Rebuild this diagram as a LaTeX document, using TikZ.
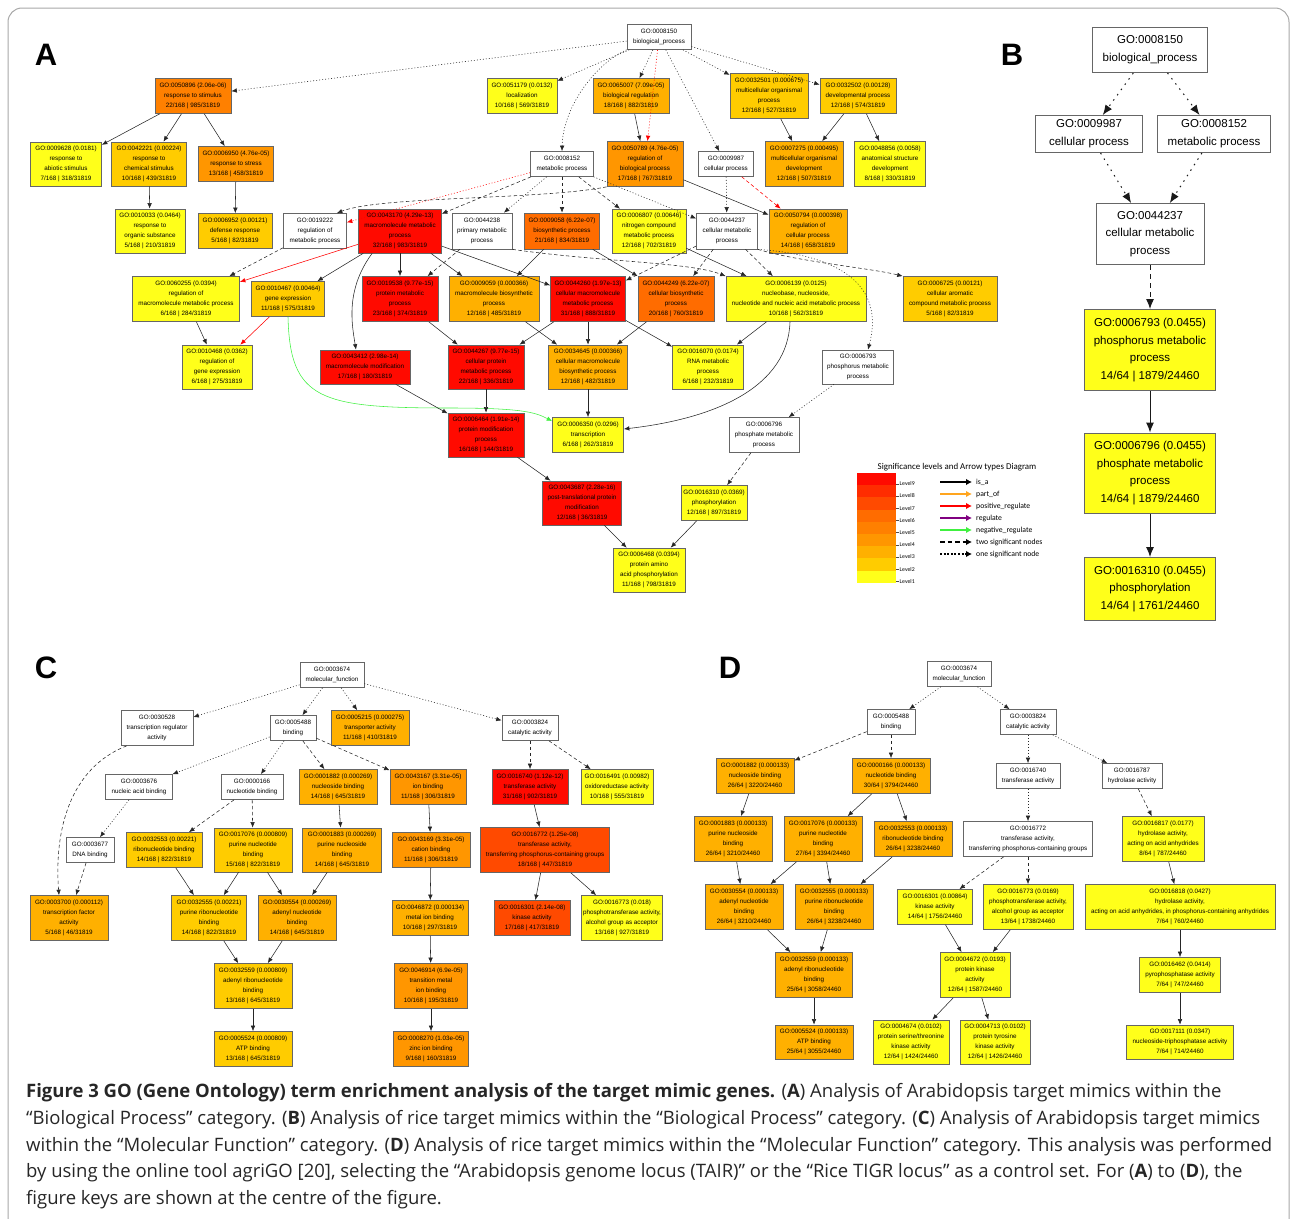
\documentclass[tikz,border=0pt]{standalone}
\usepackage{fontspec}
\setmainfont{Liberation Sans}
\newfontfamily\capfont{Open Sans}
\newfontfamily\keyfont{Carlito}
\usetikzlibrary{arrows.meta}
\definecolor{lvlone}{HTML}{FFFF1A}
\definecolor{lvltwo}{HTML}{FFCC00}
\definecolor{lvlthree}{HTML}{FFB000}
\definecolor{lvlfour}{HTML}{FF9600}
\definecolor{lvlfive}{HTML}{FF8000}
\definecolor{lvlsix}{HTML}{FF6C00}
\definecolor{lvlseven}{HTML}{FF4A00}
\definecolor{lvleight}{HTML}{FF2C00}
\definecolor{lvlnine}{HTML}{FF0A00}
\definecolor{partof}{HTML}{FFA51E}
\definecolor{negreg}{HTML}{40F040}
\definecolor{framegray}{HTML}{A8A8A8}
\newcommand\gofont{\fontsize{6.3}{9.9}\selectfont}
\newcommand\bgofont{\fontsize{11.5}{17.7}\selectfont}
\newcommand\panelfont{\fontsize{31}{31}\selectfont\bfseries}
\newcommand\capsize{\capfont\fontsize{18.5}{22}\selectfont}

\tikzset{
  go/.style={draw=black!60, line width=0.7pt, fill=white, inner sep=0pt, align=center, font=\gofont},
  bgo/.style={go, line width=1pt, font=\bgofont},
  sz/.style 2 args={minimum width=#1, minimum height=#2},
  isa/.style={draw=black!85, line width=0.55pt, -{Latex[length=5.5pt,width=4.5pt]}},
  twosig/.style={isa, dash pattern=on 3.5pt off 2.5pt},
  onesig/.style={isa, dash pattern=on 1pt off 2pt},
  bisa/.style={draw=black!90, line width=1pt, -{Latex[length=10pt,width=8pt]}},
  btwo/.style={bisa, dash pattern=on 5pt off 4pt},
  bone/.style={bisa, dash pattern=on 1.5pt off 5pt},
  keyarr/.style={line width=2.2pt, -{Latex[length=6pt,width=6.5pt]}},
  keylab/.style={anchor=west, inner sep=0pt, font=\keyfont\fontsize{7.7}{8}\selectfont},
  panel/.style={font=\panelfont, inner sep=0pt},
  capline/.style={anchor=base west, inner sep=0pt, font=\capsize, text=black!85},
}

\begin{document}
\begin{tikzpicture}[x=1pt, y=-1pt]
  \useasboundingbox (0,0) rectangle (1292,1218);
  % Figure frame
  \draw[framegray, line width=1pt, rounded corners=14pt] (8,8) rectangle (1289,1260);

  % Panel letters
  \node[panel] (labA) at (46,55) {A};
  \node[panel] (labB) at (1012,55) {B};
  \node[panel] (labC) at (46,668) {C};
  \node[panel] (labD) at (730,668) {D};

  % ---------------- Panel A ----------------
  \node[go, sz={64}{25}] (aBP) at (659,37) {GO:0008150\\biological\_process};
  \node[go, sz={76}{35}, fill=lvlfive] (a50896) at (193,96) {GO:0050896 (2.06e-06)\\response to stimulus\\22/168 | 985/31819};
  \node[go, sz={70}{35}, fill=lvlone] (a51179) at (522,96) {GO:0051179 (0.0132)\\localization\\10/168 | 569/31819};
  \node[go, sz={76}{35}, fill=lvlthree] (a65007) at (631,96) {GO:0065007 (7.09e-05)\\biological regulation\\18/168 | 882/31819};
  \node[go, sz={78}{45}, fill=lvltwo] (a32501) at (769,96) {GO:0032501 (0.000675)\\multicellular organismal\\process\\12/168 | 527/31819};
  \node[go, sz={76}{35}, fill=lvltwo] (a32502) at (858,96) {GO:0032502 (0.00128)\\developmental process\\12/168 | 574/31819};

  \node[go, sz={71}{44}, fill=lvlone] (a9628) at (66,164) {GO:0009628 (0.0181)\\response to\\abiotic stimulus\\7/168 | 318/31819};
  \node[go, sz={75}{44}, fill=lvltwo] (a42221) at (149,164) {GO:0042221 (0.00224)\\response to\\chemical stimulus\\10/168 | 439/31819};
  \node[go, sz={75}{35}, fill=lvlfour] (a6950) at (236,164) {GO:0006950 (4.76e-05)\\response to stress\\13/168 | 458/31819};
  \node[go, sz={63}{25}] (a8152) at (562,164) {GO:0008152\\metabolic process};
  \node[go, sz={76}{45}, fill=lvlfour] (a50789) at (645,164) {GO:0050789 (4.76e-05)\\regulation of\\biological process\\17/168 | 767/31819};
  \node[go, sz={55}{25}] (a9987) at (726,164) {GO:0009987\\cellular process};
  \node[go, sz={78}{45}, fill=lvlthree] (a7275) at (804,164) {GO:0007275 (0.000495)\\multicellular organismal\\development\\12/168 | 507/31819};
  \node[go, sz={71}{45}, fill=lvlone] (a48856) at (890,164) {GO:0048856 (0.0058)\\anatomical structure\\development\\8/168 | 330/31819};

  \node[go, sz={70}{44}, fill=lvlone] (a10033) at (150,231) {GO:0010033 (0.0464)\\response to\\organic substance\\5/168 | 210/31819};
  \node[go, sz={74}{35}, fill=lvltwo] (a6952) at (235,231) {GO:0006952 (0.00121)\\defense response\\5/168 | 82/31819};
  \node[go, sz={63}{35}] (a19222) at (315,231) {GO:0019222\\regulation of\\metabolic process};
  \node[go, sz={83}{44}, fill=lvlnine] (a43170) at (400,231) {GO:0043170 (4.29e-13)\\macromolecule metabolic\\process\\32/168 | 983/31819};
  \node[go, sz={60}{36}] (a44238) at (482,231) {GO:0044238\\primary metabolic\\process};
  \node[go, sz={75}{36}, fill=lvlsix] (a9058) at (562,231) {GO:0009058 (6.22e-07)\\biosynthetic process\\21/168 | 834/31819};
  \node[go, sz={74}{44}, fill=lvlone] (a6807) at (649,231) {GO:0006807 (0.00646)\\nitrogen compound\\metabolic process\\12/168 | 702/31819};
  \node[go, sz={61}{36}] (a44237) at (727,231) {GO:0044237\\cellular metabolic\\process};
  \node[go, sz={78}{44}, fill=lvlthree] (a50794) at (808,231) {GO:0050794 (0.000398)\\regulation of\\cellular process\\14/168 | 658/31819};

  \node[go, sz={107}{45}, fill=lvlone] (a60255) at (186,299) {GO:0060255 (0.0394)\\regulation of\\macromolecule metabolic process\\6/168 | 284/31819};
  \node[go, sz={73}{35}, fill=lvltwo] (a10467) at (288,299) {GO:0010467 (0.00464)\\gene expression\\11/168 | 575/31819};
  \node[go, sz={76}{45}, fill=lvlnine] (a19538) at (400,299) {GO:0019538 (9.77e-15)\\protein metabolic\\process\\23/168 | 374/31819};
  \node[go, sz={90}{45}, fill=lvlthree] (a9059) at (494,299) {GO:0009059 (0.000366)\\macromolecule biosynthetic\\process\\12/168 | 485/31819};
  \node[go, sz={75}{45}, fill=lvlnine] (a44260) at (588,299) {GO:0044260 (1.97e-13)\\cellular macromolecule\\metabolic process\\31/168 | 888/31819};
  \node[go, sz={76}{45}, fill=lvlsix] (a44249) at (676,299) {GO:0044249 (6.22e-07)\\cellular biosynthetic\\process\\20/168 | 760/31819};
  \node[go, sz={140}{45}, fill=lvlone] (a6139) at (796,299) {GO:0006139 (0.0125)\\nucleobase, nucleoside,\\nucleotide and nucleic acid metabolic process\\10/168 | 562/31819};
  \node[go, sz={94}{45}, fill=lvltwo] (a6725) at (950,299) {GO:0006725 (0.00121)\\cellular aromatic\\compound metabolic process\\5/168 | 82/31819};

  \node[go, sz={70}{44}, fill=lvlone] (a10468) at (217,367) {GO:0010468 (0.0362)\\regulation of\\gene expression\\6/168 | 275/31819};
  \node[go, sz={90}{34}, fill=lvlnine] (a43412) at (365,367) {GO:0043412 (2.98e-14)\\macromolecule modification\\17/168 | 180/31819};
  \node[go, sz={76}{44}, fill=lvlnine] (a44267) at (486,367) {GO:0044267 (9.77e-15)\\cellular protein\\metabolic process\\22/168 | 336/31819};
  \node[go, sz={79}{44}, fill=lvlthree] (a34645) at (588,367) {GO:0034645 (0.000366)\\cellular macromolecule\\biosynthetic process\\12/168 | 482/31819};
  \node[go, sz={71}{44}, fill=lvlone] (a16070) at (708,367) {GO:0016070 (0.0174)\\RNA metabolic\\process\\6/168 | 232/31819};
  \node[go, sz={71}{34}] (a6793) at (858,367) {GO:0006793\\phosphorus metabolic\\process};

  \node[go, sz={76}{44}, fill=lvlnine] (a6464) at (486,435) {GO:0006464 (1.91e-14)\\protein modification\\process\\16/168 | 144/31819};
  \node[go, sz={71}{35}, fill=lvlone] (a6350) at (588,435) {GO:0006350 (0.0296)\\transcription\\6/168 | 262/31819};
  \node[go, sz={70}{35}] (a6796) at (764,435) {GO:0006796\\phosphate metabolic\\process};
  \node[go, sz={79}{44}, fill=lvlnine] (a43687) at (582,503) {GO:0043687 (2.28e-16)\\post-translational protein\\modification\\12/168 | 36/31819};
  \node[go, sz={66}{35}, fill=lvlone] (a16310) at (714,503) {GO:0016310 (0.0369)\\phosphorylation\\12/168 | 897/31819};
  \node[go, sz={72}{44}, fill=lvlone] (a6468) at (649,570) {GO:0006468 (0.0394)\\protein amino\\acid phosphorylation\\11/168 | 798/31819};

  % Panel A edges
  \draw[onesig] (aBP) -- (a50896);
  \draw[onesig] (aBP) -- (a51179);
  \draw[onesig] (aBP) -- (a65007);
  \draw[onesig, draw=red] (aBP) -- (a50789);
  \draw[onesig] (aBP) -- (a32501);
  \draw[onesig] (aBP) -- (a32502);
  \draw[onesig] (aBP) -- (a9987);
  \draw[onesig] (aBP.south west) .. controls (598,62) and (563,105) .. (a8152.north);
  \draw[isa] (a50896) -- (a9628);
  \draw[isa] (a50896) -- (a42221);
  \draw[isa] (a50896) -- (a6950);
  \draw[isa] (a42221) -- (a10033);
  \draw[isa] (a6950) -- (a6952);
  \draw[isa] (a65007) -- (a50789);
  \draw[isa] (a32501) -- (a7275);
  \draw[isa] (a32502) -- (a7275);
  \draw[isa] (a32502) -- (a48856);
  \draw[isa] (a50789) -- (a50794);
  \draw[twosig, draw=red] (a9987) -- (a50794);
  \draw[onesig] (a9987) -- (a44237);
  \draw[onesig, draw=red] (a8152) -- (a19222);
  \draw[twosig] (a8152) -- (a43170);
  \draw[onesig] (a8152) -- (a44238);
  \draw[twosig] (a8152) -- (a9058);
  \draw[twosig] (a8152) -- (a6807);
  \draw[onesig] (a8152) -- (a44237);
  \draw[twosig] (a50789.south west) .. controls (540,200) and (380,196) .. ([xshift=-10pt]a19222.north east);
  \draw[twosig] (a19222) -- (a60255);
  \draw[isa, draw=red] (a43170) -- (a60255);
  \draw[isa] (a43170) -- (a10467);
  \draw[isa] ([xshift=14pt]a43170.south west) .. controls (345,290) and (352,325) .. ([xshift=-9pt]a43412.north);
  \draw[isa] (a43170) -- (a19538);
  \draw[isa] (a43170) -- (a9059);
  \draw[isa] (a43170) -- (a44260);
  \draw[twosig] (a44238) -- (a19538);
  \draw[twosig] (a44238.south east) .. controls (600,262) and (690,262) .. (a6139.north west);
  \draw[isa] (a9058) -- (a9059);
  \draw[isa] (a9058) -- (a44249);
  \draw[isa] (a6807) -- (a6139);
  \draw[twosig] (a44237) -- (a44260);
  \draw[twosig] (a44237) -- (a44249);
  \draw[twosig] (a44237) -- (a6139);
  \draw[twosig] (a44237.south east) .. controls (800,262) and (870,268) .. (a6725.north west);
  \draw[onesig] (a44237.south east) .. controls (840,255) and (885,285) .. ([xshift=10pt]a6793.north);
  \draw[isa] (a60255) -- (a10468);
  \draw[isa, draw=red] (a10467) -- (a10468);
  \draw[isa, draw=negreg] (a10467.south) .. controls (290,400) and (320,408) .. (450,408) .. controls (520,408) and (535,412) .. ([yshift=-4pt]a6350.north west);
  \draw[isa] (a19538) -- (a44267);
  \draw[isa] (a44260) -- (a44267);
  \draw[isa] (a44260) -- (a34645);
  \draw[isa] (a44260) -- (a16070);
  \draw[isa] (a9059) -- (a34645);
  \draw[isa] (a44249) -- (a34645);
  \draw[isa] (a6139) -- (a16070);
  \draw[isa] ([xshift=-6pt]a6139.south) .. controls (788,385) and (720,418) .. ([yshift=6pt]a6350.east);
  \draw[isa] (a43412) -- (a6464);
  \draw[isa] (a44267) -- (a6464);
  \draw[isa] (a34645) -- (a6350);
  \draw[onesig] (a6793) -- (a6796);
  \draw[twosig] (a6796) -- (a16310);
  \draw[isa] (a6464) -- (a43687);
  \draw[isa] (a43687) -- (a6468);
  \draw[isa] (a16310) -- (a6468);

  % Key: significance levels and arrow types
  \node[font=\keyfont\fontsize{8.9}{9}\selectfont, inner sep=0pt] (keytitle) at (957,467) {Significance levels and Arrow types Diagram};
  \foreach \c [count=\i] in {lvlnine,lvleight,lvlseven,lvlsix,lvlfive,lvlfour,lvlthree,lvltwo,lvlone}
    \fill[\c] (857,{473+(\i-1)*12.2}) rectangle (896,{473+\i*12.2});
  \foreach \n [count=\i] in {9,...,1} {
    \draw[black!70, line width=0.4pt] (896,{473+\i*12.2-1.5}) -- (899,{473+\i*12.2-1.5});
    \node[anchor=west, inner sep=0pt, font=\keyfont\fontsize{5.8}{6}\selectfont] (lev\n) at (899.5,{473+\i*12.2-1.5}) {Level\n};
  }
  \foreach \y [count=\k] in {482,494,506,518,530,542,554} {
    \coordinate (ks\k) at (940,\y);
    \coordinate (ke\k) at (972,\y);
  }
  \draw[keyarr] (ks1) -- (ke1);
  \draw[keyarr, partof] (ks2) -- (ke2);
  \draw[keyarr, red] (ks3) -- (ke3);
  \draw[keyarr, violet] (ks4) -- (ke4);
  \draw[keyarr, negreg] (ks5) -- (ke5);
  \draw[keyarr, dash pattern=on 4.5pt off 3pt] (ks6) -- (ke6);
  \draw[keyarr, dash pattern=on 2pt off 1.6pt] (ks7) -- (ke7);
  \node[keylab] (kl1) at (976,482) {is\_a};
  \node[keylab] (kl2) at (976,494) {part\_of};
  \node[keylab] (kl3) at (976,506) {positive\_regulate};
  \node[keylab] (kl4) at (976,518) {regulate};
  \node[keylab] (kl5) at (976,530) {negative\_regulate};
  \node[keylab] (kl6) at (976,542) {two significant nodes};
  \node[keylab] (kl7) at (976,554) {one significant node};

  % ---------------- Panel B ----------------
  \node[bgo, sz={115}{45}] (bBP) at (1150,50) {GO:0008150\\biological\_process};
  \node[bgo, sz={107}{37}] (b9987) at (1089,134) {GO:0009987\\cellular process};
  \node[bgo, sz={113}{37}] (b8152) at (1214,134) {GO:0008152\\metabolic process};
  \node[bgo, sz={108}{61}] (b44237) at (1150,234) {GO:0044237\\cellular metabolic\\process};
  \node[bgo, sz={131}{81}, fill=lvlone] (b6793) at (1150,350) {GO:0006793 (0.0455)\\phosphorus metabolic\\process\\14/64 | 1879/24460};
  \node[bgo, sz={131}{80}, fill=lvlone] (b6796) at (1150,473) {GO:0006796 (0.0455)\\phosphate metabolic\\process\\14/64 | 1879/24460};
  \node[bgo, sz={131}{63}, fill=lvlone] (b16310) at (1150,589) {GO:0016310 (0.0455)\\phosphorylation\\14/64 | 1761/24460};
  \draw[bone] (bBP) -- (b9987);
  \draw[bone] (bBP) -- (b8152);
  \draw[bone] (b9987) -- (b44237);
  \draw[bone] (b8152) -- (b44237);
  \draw[btwo] (b44237) -- (b6793);
  \draw[bisa] (b6793) -- (b6796);
  \draw[bisa] (b6796) -- (b16310);

  % ---------------- Panel C ----------------
  \node[go, sz={64}{25}] (cMF) at (332,675) {GO:0003674\\molecular\_function};
  \node[go, sz={72}{35}] (c30528) at (157,728) {GO:0030528\\transcription regulator\\activity};
  \node[go, sz={46}{25}] (c5488) at (293,728) {GO:0005488\\binding};
  \node[go, sz={78}{35}, fill=lvlthree] (c5215) at (370,728) {GO:0005215 (0.000275)\\transporter activity\\11/168 | 410/31819};
  \node[go, sz={56}{25}] (c3824) at (530,728) {GO:0003824\\catalytic activity};

  \node[go, sz={67}{25}] (c3676) at (139,787) {GO:0003676\\nucleic acid binding};
  \node[go, sz={62}{25}] (c166) at (252,787) {GO:0000166\\nucleotide binding};
  \node[go, sz={78}{35}, fill=lvlthree] (c1882) at (338,787) {GO:0001882 (0.000269)\\nucleoside binding\\14/168 | 645/31819};
  \node[go, sz={76}{35}, fill=lvlfour] (c43167) at (428,787) {GO:0043167 (3.31e-05)\\ion binding\\11/168 | 306/31819};
  \node[go, sz={76}{35}, fill=lvlnine] (c16740) at (530,787) {GO:0016740 (1.12e-12)\\transferase activity\\31/168 | 902/31819};
  \node[go, sz={72}{35}, fill=lvlone] (c16491) at (617,787) {GO:0016491 (0.00982)\\oxidoreductase activity\\10/168 | 555/31819};

  \node[go, sz={48}{25}] (c3677) at (90,850) {GO:0003677\\DNA binding};
  \node[go, sz={76}{35}, fill=lvltwo] (c32553) at (164,850) {GO:0032553 (0.00221)\\ribonucleotide binding\\14/168 | 822/31819};
  \node[go, sz={78}{44}, fill=lvltwo] (c17076) at (253,850) {GO:0017076 (0.000809)\\purine nucleotide\\binding\\15/168 | 822/31819};
  \node[go, sz={79}{44}, fill=lvlthree] (c1883) at (342,850) {GO:0001883 (0.000269)\\purine nucleoside\\binding\\14/168 | 645/31819};
  \node[go, sz={78}{35}, fill=lvlfour] (c43169) at (431,850) {GO:0043169 (3.31e-05)\\cation binding\\11/168 | 306/31819};
  \node[go, sz={129}{45}, fill=lvlseven] (c16772) at (545,850) {GO:0016772 (1.25e-08)\\transferase activity,\\transferring phosphorus-containing groups\\18/168 | 447/31819};

  \node[go, sz={78}{45}, fill=lvlthree] (c3700) at (69,918) {GO:0003700 (0.000112)\\transcription factor\\activity\\5/168 | 46/31819};
  \node[go, sz={75}{45}, fill=lvltwo] (c32555) at (209,918) {GO:0032555 (0.00221)\\purine ribonucleotide\\binding\\14/168 | 822/31819};
  \node[go, sz={78}{45}, fill=lvlthree] (c30554) at (297,918) {GO:0030554 (0.000269)\\adenyl nucleotide\\binding\\14/168 | 645/31819};
  \node[go, sz={76}{35}, fill=lvlthree] (c46872) at (430,918) {GO:0046872 (0.000134)\\metal ion binding\\10/168 | 297/31819};
  \node[go, sz={76}{35}, fill=lvlseven] (c16301) at (532,918) {GO:0016301 (2.14e-08)\\kinase activity\\17/168 | 417/31819};
  \node[go, sz={81}{45}, fill=lvlone] (c16773) at (622,918) {GO:0016773 (0.018)\\phosphotransferase activity,\\alcohol group as acceptor\\13/168 | 927/31819};

  \node[go, sz={78}{45}, fill=lvltwo] (c32559) at (253,986) {GO:0032559 (0.000809)\\adenyl ribonucleotide\\binding\\13/168 | 645/31819};
  \node[go, sz={73}{45}, fill=lvlfour] (c46914) at (431,986) {GO:0046914 (6.9e-05)\\transition metal\\ion binding\\10/168 | 195/31819};
  \node[go, sz={78}{35}, fill=lvltwo] (c5524) at (253,1049) {GO:0005524 (0.000809)\\ATP binding\\13/168 | 645/31819};
  \node[go, sz={75}{35}, fill=lvlfour] (c8270) at (431,1049) {GO:0008270 (1.03e-05)\\zinc ion binding\\9/168 | 160/31819};

  % Panel C edges
  \draw[onesig] (cMF) -- (c30528);
  \draw[onesig] (cMF) -- (c5488);
  \draw[onesig] (cMF) -- (c5215);
  \draw[onesig] (cMF) -- (c3824);
  \draw[twosig] ([xshift=6pt]c30528.south west) .. controls (70,768) and (54,830) .. ([xshift=-10pt]c3700.north);
  \draw[onesig] (c5488) -- (c3676);
  \draw[onesig] (c5488) -- (c166);
  \draw[twosig] (c5488) -- (c1882);
  \draw[twosig] (c5488) -- (c43167);
  \draw[onesig] (c3676) -- (c3677);
  \draw[twosig] (c3677) -- (c3700);
  \draw[twosig] (c166) -- (c32553);
  \draw[twosig] (c166) -- (c17076);
  \draw[isa] (c1882) -- (c1883);
  \draw[isa] (c43167) -- (c43169);
  \draw[twosig] (c3824) -- (c16740);
  \draw[twosig] (c3824) -- (c16491);
  \draw[isa] (c16740) -- (c16772);
  \draw[isa] (c32553) -- (c32555);
  \draw[isa] (c17076) -- (c32555);
  \draw[isa] (c17076) -- (c30554);
  \draw[isa] (c1883) -- (c30554);
  \draw[isa] (c32555) -- (c32559);
  \draw[isa] (c30554) -- (c32559);
  \draw[isa] (c32559) -- (c5524);
  \draw[isa] (c43169) -- (c46872);
  \draw[isa] (c46872) -- (c46914);
  \draw[isa] (c46914) -- (c8270);
  \draw[isa] (c16772) -- (c16301);
  \draw[isa] (c16772) -- (c16773);

  % ---------------- Panel D ----------------
  \node[go, sz={64}{25}] (dMF) at (959,674) {GO:0003674\\molecular\_function};
  \node[go, sz={48}{25}] (d5488) at (891,722) {GO:0005488\\binding};
  \node[go, sz={56}{25}] (d3824) at (1028,722) {GO:0003824\\catalytic activity};
  \node[go, sz={78}{35}, fill=lvlthree] (d1882) at (755,776) {GO:0001882 (0.000133)\\nucleoside binding\\26/64 | 3220/24460};
  \node[go, sz={78}{35}, fill=lvlthree] (d166) at (891,776) {GO:0000166 (0.000133)\\nucleotide binding\\30/64 | 3794/24460};
  \node[go, sz={64}{25}] (d16740) at (1028,776) {GO:0016740\\transferase activity};
  \node[go, sz={60}{25}] (d16787) at (1132,776) {GO:0016787\\hydrolase activity};

  \node[go, sz={78}{45}, fill=lvlthree] (d1883) at (733,839) {GO:0001883 (0.000133)\\purine nucleoside\\binding\\26/64 | 3210/24460};
  \node[go, sz={78}{45}, fill=lvlthree] (d17076) at (823,839) {GO:0017076 (0.000133)\\purine nucleotide\\binding\\27/64 | 3394/24460};
  \node[go, sz={78}{35}, fill=lvlthree] (d32553) at (913,839) {GO:0032553 (0.000133)\\ribonucleotide binding\\26/64 | 3238/24460};
  \node[go, sz={129}{35}] (d16772) at (1028,839) {GO:0016772\\transferase activity,\\transferring phosphorus-containing groups};
  \node[go, sz={82}{45}, fill=lvlone] (d16817) at (1163,839) {GO:0016817 (0.0177)\\hydrolase activity,\\acting on acid anhydrides\\8/64 | 787/24460};

  \node[go, sz={78}{45}, fill=lvlthree] (d30554) at (744,907) {GO:0030554 (0.000133)\\adenyl nucleotide\\binding\\26/64 | 3210/24460};
  \node[go, sz={78}{45}, fill=lvlthree] (d32555) at (834,907) {GO:0032555 (0.000133)\\purine ribonucleotide\\binding\\26/64 | 3238/24460};
  \node[go, sz={75}{35}, fill=lvlone] (d16301) at (935,907) {GO:0016301 (0.00864)\\kinase activity\\14/64 | 1756/24460};
  \node[go, sz={90}{45}, fill=lvlone] (d16773) at (1028,907) {GO:0016773 (0.0169)\\phosphotransferase activity,\\alcohol group as acceptor\\13/64 | 1738/24460};
  \node[go, sz={190}{45}, fill=lvlone] (d16818) at (1180,907) {GO:0016818 (0.0427)\\hydrolase activity,\\acting on acid anhydrides, in phosphorus-containing anhydrides\\7/64 | 760/24460};

  \node[go, sz={77}{45}, fill=lvlthree] (d32559) at (814,975) {GO:0032559 (0.000133)\\adenyl ribonucleotide\\binding\\25/64 | 3058/24460};
  \node[go, sz={70}{45}, fill=lvlone] (d4672) at (975,975) {GO:0004672 (0.0193)\\protein kinase\\activity\\12/64 | 1587/24460};
  \node[go, sz={81}{35}, fill=lvlone] (d16462) at (1180,975) {GO:0016462 (0.0414)\\pyrophosphatase activity\\7/64 | 747/24460};
  \node[go, sz={78}{34}, fill=lvlthree] (d5524) at (814,1042) {GO:0005524 (0.000133)\\ATP binding\\25/64 | 3055/24460};
  \node[go, sz={76}{44}, fill=lvlone] (d4674) at (911,1042) {GO:0004674 (0.0102)\\protein serine/threonine\\kinase activity\\12/64 | 1424/24460};
  \node[go, sz={70}{44}, fill=lvlone] (d4713) at (995,1042) {GO:0004713 (0.0102)\\protein tyrosine\\kinase activity\\12/64 | 1426/24460};
  \node[go, sz={107}{34}, fill=lvlone] (d17111) at (1180,1042) {GO:0017111 (0.0347)\\nucleoside-triphosphatase activity\\7/64 | 714/24460};

  % Panel D edges
  \draw[onesig] (dMF) -- (d5488);
  \draw[onesig] (dMF) -- (d3824);
  \draw[twosig] (d5488) -- (d1882);
  \draw[twosig] (d5488) -- (d166);
  \draw[onesig] (d3824) -- (d16740);
  \draw[onesig] (d3824) -- (d16787);
  \draw[isa] (d1882) -- (d1883);
  \draw[isa] (d166) -- (d17076);
  \draw[isa] (d166) -- (d32553);
  \draw[onesig] (d16740) -- (d16772);
  \draw[twosig] (d16787) -- (d16817);
  \draw[isa] (d1883) -- (d30554);
  \draw[isa] (d17076) -- (d30554);
  \draw[isa] (d17076) -- (d32555);
  \draw[isa] (d32553) -- (d32555);
  \draw[twosig] (d16772) -- (d16301);
  \draw[twosig] (d16772) -- (d16773);
  \draw[isa] (d16817) -- (d16818);
  \draw[isa] (d30554) -- (d32559);
  \draw[isa] (d32555) -- (d32559);
  \draw[isa] (d16301) -- (d4672);
  \draw[isa] (d16773) -- (d4672);
  \draw[isa] (d16818) -- (d16462);
  \draw[isa] (d32559) -- (d5524);
  \draw[isa] (d4672) -- (d4674);
  \draw[isa] (d4672) -- (d4713);
  \draw[isa] (d16462) -- (d17111);

  % Caption
  \node[capline] (cap1) at (26,1097) {\textbf{Figure 3 GO (Gene Ontology) term enrichment analysis of the target mimic genes.} (\textbf{A}) Analysis of Arabidopsis target mimics within the};
  \node[capline] (cap2) at (26,1124) {“Biological Process” category. (\textbf{B}) Analysis of rice target mimics within the “Biological Process” category. (\textbf{C}) Analysis of Arabidopsis target mimics};
  \node[capline] (cap3) at (26,1151) {within the “Molecular Function” category. (\textbf{D}) Analysis of rice target mimics within the “Molecular Function” category. This analysis was performed};
  \node[capline] (cap4) at (26,1177) {by using the online tool agriGO [20], selecting the “Arabidopsis genome locus (TAIR)” or the “Rice TIGR locus” as a control set. For (\textbf{A}) to (\textbf{D}), the};
  \node[capline] (cap5) at (26,1204) {figure keys are shown at the centre of the figure.};
\end{tikzpicture}
\end{document}
